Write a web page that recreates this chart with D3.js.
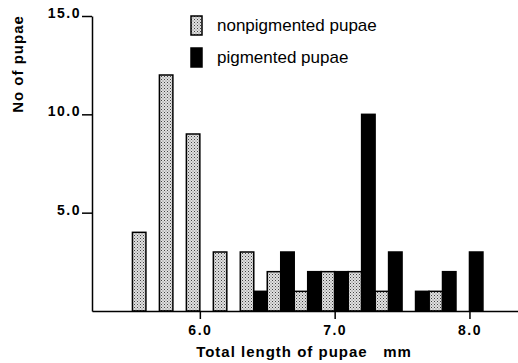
<!DOCTYPE html>
<html>
<head>
<meta charset="utf-8">
<script src="https://cdn.jsdelivr.net/npm/d3@7"></script>
<style>
body { margin: 0; background: #fff; }
svg { display: block; font-family: "Liberation Sans", Arial, sans-serif; }
.axis path, .axis line { stroke: #000; stroke-width: 1.5; }
.axis text { font-size: 14px; font-weight: bold; letter-spacing: 1.5px; fill: #000; }
</style>
</head>
<body>
<div class="chart"></div>
<script>
// bin start (mm), each bin 0.2 mm wide
var bins = [5.5, 5.7, 5.9, 6.1, 6.3, 6.5, 6.7, 6.9, 7.1, 7.3, 7.5, 7.7, 7.9];
var nonpigmented = [4, 12, 9, 3, 3, 2, 1, 2, 2, 1, 0, 1, 0];
var pigmented = [0, 0, 0, 0, 1, 3, 2, 2, 10, 3, 1, 2, 3];
var xTicks = [6.0, 7.0, 8.0];
var yTicks = [5.0, 10.0, 15.0];

var W = 518, H = 363,
    margin = {top: 16, right: 0, bottom: 52, left: 92},
    width = W - margin.left - margin.right,
    height = H - margin.top - margin.bottom;

var svg = d3.select(".chart").append("svg").attr("width", W).attr("height", H);

var defs = svg.append("defs");
var pat = defs.append("pattern").attr("id", "stipple")
    .attr("patternUnits", "userSpaceOnUse").attr("width", 3).attr("height", 3);
pat.append("rect").attr("width", 3).attr("height", 3).attr("fill", "#e0e0e0");
pat.append("rect").attr("x", 0).attr("y", 0).attr("width", 1).attr("height", 1).attr("fill", "#444");
pat.append("rect").attr("x", 1.5).attr("y", 1.5).attr("width", 1).attr("height", 1).attr("fill", "#777");

var x = d3.scaleLinear().domain([5.2, 8.36]).range([0, width]);
var y = d3.scaleLinear().domain([0, 15]).range([height, 0]);

var g = svg.append("g").attr("transform", "translate(" + margin.left + "," + margin.top + ")");

var rows = bins.map(function(b, i) { return {start: b, non: nonpigmented[i], pig: pigmented[i]}; });

// nonpigmented: left half of each bin
g.selectAll(".non").data(rows.filter(function(d) { return d.non > 0; }))
  .enter().append("rect").attr("class", "non")
    .attr("x", function(d) { return x(d.start); })
    .attr("width", function(d) { return x(d.start + 0.1) - x(d.start); })
    .attr("y", function(d) { return y(d.non); })
    .attr("height", function(d) { return y(0) - y(d.non); })
    .attr("fill", "url(#stipple)").attr("stroke", "#000").attr("stroke-width", 1.5);

// pigmented: right half
g.selectAll(".pig").data(rows.filter(function(d) { return d.pig > 0; }))
  .enter().append("rect").attr("class", "pig")
    .attr("x", function(d) { return x(d.start + 0.1); })
    .attr("width", function(d) { return x(d.start + 0.2) - x(d.start + 0.1); })
    .attr("y", function(d) { return y(d.pig); })
    .attr("height", function(d) { return y(0) - y(d.pig); })
    .attr("fill", "#000").attr("stroke", "#000").attr("stroke-width", 1.5);

g.append("g").attr("class", "axis")
    .attr("transform", "translate(0," + height + ")")
    .call(d3.axisBottom(x).tickValues(xTicks).tickFormat(d3.format(".1f")).tickSize(8).tickSizeOuter(0))
    .selectAll("text").attr("dy", "0.9em");

g.append("g").attr("class", "axis")
    .call(d3.axisLeft(y).tickValues(yTicks).tickFormat(d3.format(".1f")).tickSize(10).tickSizeOuter(0).tickPadding(1))
    .selectAll("text").attr("dy", "0.1em");

svg.append("text")
    .attr("transform", "translate(23," + (margin.top + 48) + ") rotate(-90)")
    .attr("text-anchor", "middle")
    .attr("font-size", 15).attr("font-weight", "bold").attr("letter-spacing", 1)
    .text("No of pupae");

svg.append("text")
    .attr("x", 304).attr("y", 357)
    .attr("text-anchor", "middle")
    .attr("font-size", 15).attr("font-weight", "bold").attr("letter-spacing", 1)
    .attr("xml:space", "preserve")
    .text("Total length of pupae   mm");

// legend
var legend = [
  {label: "nonpigmented pupae", fill: "url(#stipple)", y: 16},
  {label: "pigmented pupae", fill: "#000", y: 48}
];
var lg = svg.selectAll(".leg").data(legend).enter().append("g")
    .attr("transform", function(d) { return "translate(191," + d.y + ")"; });
lg.append("rect").attr("width", 11).attr("height", 19)
    .attr("fill", function(d) { return d.fill; }).attr("stroke", "#000").attr("stroke-width", 1.5);
lg.append("text").attr("x", 26).attr("y", 15)
    .attr("font-size", 17).text(function(d) { return d.label; });
</script>
</body>
</html>
